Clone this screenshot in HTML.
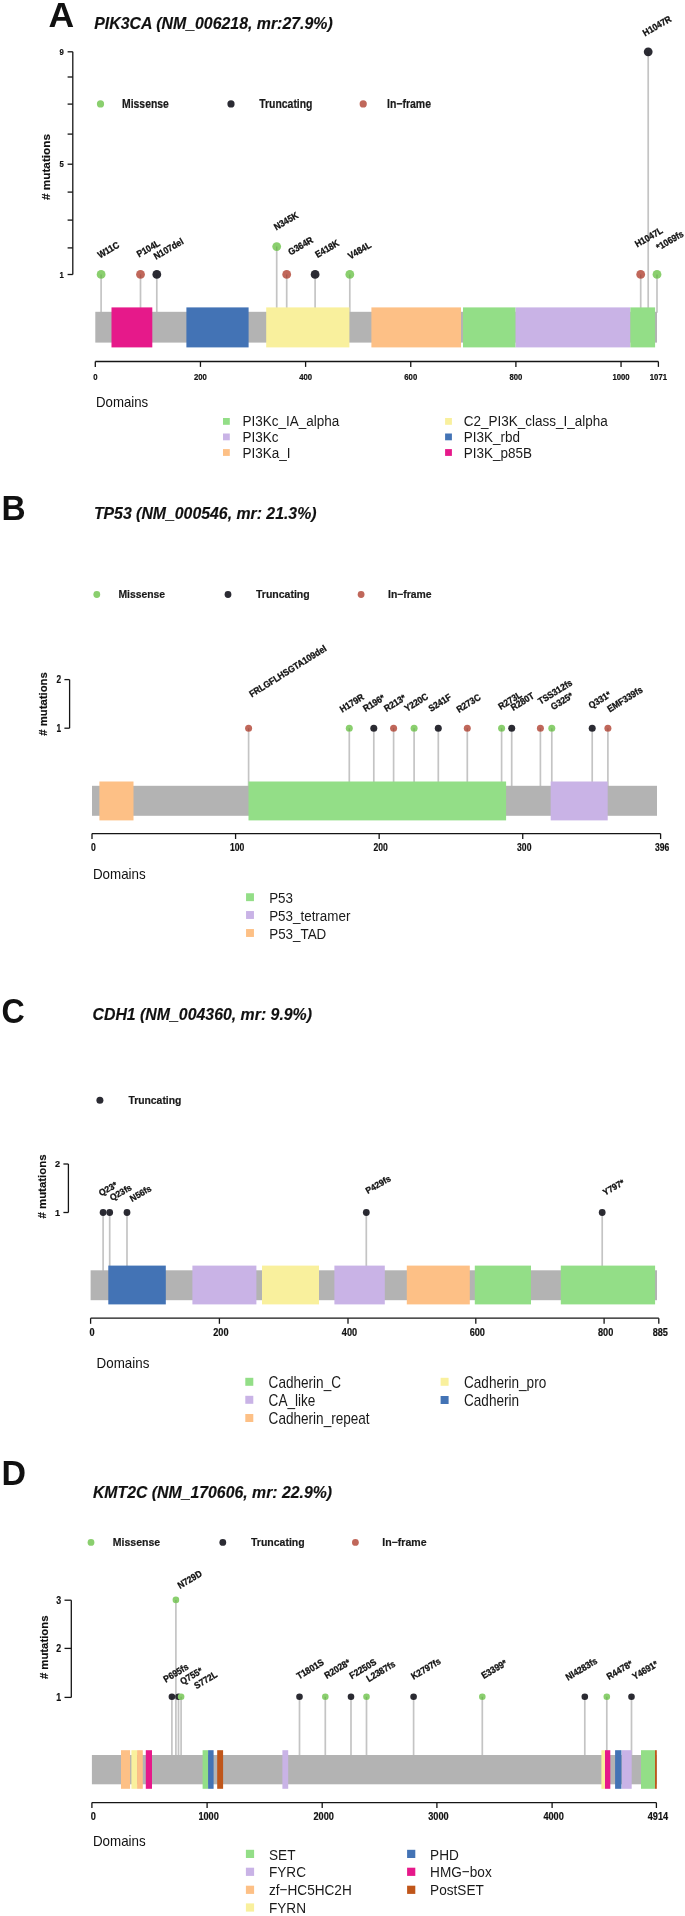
<!DOCTYPE html>
<html><head><meta charset="utf-8"><title>Lollipop plots</title>
<style>
html,body{margin:0;padding:0;background:#fff;}
svg{display:block;will-change:transform;}
text{font-family:"Liberation Sans",sans-serif;}
</style></head>
<body>
<svg width="685" height="1916" viewBox="0 0 685 1916">
<rect x="0" y="0" width="685" height="1916" fill="#ffffff"/>
<text x="0" y="0" font-size="35.2" font-weight="bold" fill="#111" transform="translate(48.45,26.6) scale(1.01,1)">A</text>
<text x="94.2" y="29.4" font-size="17.3" font-weight="bold" font-style="italic" text-anchor="start" fill="#111" textLength="238.5" lengthAdjust="spacingAndGlyphs" stroke="#111" stroke-width="0.15">PIK3CA (NM_006218, mr:27.9%)</text>
<circle cx="100.5" cy="103.9" r="3.6" fill="#8ACF6E"/>
<text x="122.0" y="107.7" font-size="12.3" font-weight="bold" text-anchor="start" fill="#1a1a1a" textLength="46.9" lengthAdjust="spacingAndGlyphs" stroke="#1a1a1a" stroke-width="0.2">Missense</text>
<circle cx="231.0" cy="103.9" r="3.6" fill="#2B2B33"/>
<text x="259.2" y="107.7" font-size="12.3" font-weight="bold" text-anchor="start" fill="#1a1a1a" textLength="53.3" lengthAdjust="spacingAndGlyphs" stroke="#1a1a1a" stroke-width="0.2">Truncating</text>
<circle cx="363.2" cy="103.9" r="3.6" fill="#C0675A"/>
<text x="387.0" y="107.7" font-size="12.3" font-weight="bold" text-anchor="start" fill="#1a1a1a" textLength="44.0" lengthAdjust="spacingAndGlyphs" stroke="#1a1a1a" stroke-width="0.2">In−frame</text>
<line x1="72.8" y1="51.8" x2="72.8" y2="274.5" stroke="#151515" stroke-width="1.3"/>
<line x1="67.6" y1="274.5" x2="72.8" y2="274.5" stroke="#151515" stroke-width="1.3"/>
<text x="0" y="0" font-size="9.0" font-weight="bold" text-anchor="middle" fill="#111" stroke="#111" stroke-width="0.2" transform="translate(61.6,277.6) scale(0.86,1)">1</text>
<line x1="67.6" y1="247.9" x2="72.8" y2="247.9" stroke="#151515" stroke-width="1.3"/>
<line x1="67.6" y1="220.1" x2="72.8" y2="220.1" stroke="#151515" stroke-width="1.3"/>
<line x1="67.6" y1="192.1" x2="72.8" y2="192.1" stroke="#151515" stroke-width="1.3"/>
<line x1="67.6" y1="164.2" x2="72.8" y2="164.2" stroke="#151515" stroke-width="1.3"/>
<text x="0" y="0" font-size="9.0" font-weight="bold" text-anchor="middle" fill="#111" stroke="#111" stroke-width="0.2" transform="translate(61.6,167.3) scale(0.86,1)">5</text>
<line x1="67.6" y1="134.1" x2="72.8" y2="134.1" stroke="#151515" stroke-width="1.3"/>
<line x1="67.6" y1="104.1" x2="72.8" y2="104.1" stroke="#151515" stroke-width="1.3"/>
<line x1="67.6" y1="77.0" x2="72.8" y2="77.0" stroke="#151515" stroke-width="1.3"/>
<line x1="67.6" y1="51.8" x2="72.8" y2="51.8" stroke="#151515" stroke-width="1.3"/>
<text x="0" y="0" font-size="9.0" font-weight="bold" text-anchor="middle" fill="#111" stroke="#111" stroke-width="0.2" transform="translate(61.6,54.9) scale(0.86,1)">9</text>
<text x="0" y="0" font-size="11.3" font-weight="bold" text-anchor="middle" fill="#111" stroke="#111" stroke-width="0.15" textLength="66" lengthAdjust="spacingAndGlyphs" transform="translate(50.4,167) rotate(-90)"># mutations</text>
<line x1="101.1" y1="274.4" x2="101.1" y2="312.8" stroke="#C4C4C4" stroke-width="1.7"/>
<line x1="140.5" y1="274.4" x2="140.5" y2="312.8" stroke="#C4C4C4" stroke-width="1.7"/>
<line x1="156.8" y1="274.4" x2="156.8" y2="312.8" stroke="#C4C4C4" stroke-width="1.7"/>
<line x1="276.7" y1="246.6" x2="276.7" y2="312.8" stroke="#C4C4C4" stroke-width="1.7"/>
<line x1="286.7" y1="274.4" x2="286.7" y2="312.8" stroke="#C4C4C4" stroke-width="1.7"/>
<line x1="315.1" y1="274.4" x2="315.1" y2="312.8" stroke="#C4C4C4" stroke-width="1.7"/>
<line x1="349.8" y1="274.4" x2="349.8" y2="312.8" stroke="#C4C4C4" stroke-width="1.7"/>
<line x1="640.7" y1="274.4" x2="640.7" y2="312.8" stroke="#C4C4C4" stroke-width="1.7"/>
<line x1="648.2" y1="51.8" x2="648.2" y2="312.8" stroke="#C4C4C4" stroke-width="1.7"/>
<line x1="657.0" y1="274.4" x2="657.0" y2="312.8" stroke="#C4C4C4" stroke-width="1.7"/>
<circle cx="101.1" cy="274.4" r="4.4" fill="#8ACF6E"/>
<line x1="101.1" y1="274.4" x2="101.1" y2="278.2" stroke="#000" stroke-opacity="0.12" stroke-width="1.4"/>
<circle cx="140.5" cy="274.4" r="4.4" fill="#C0675A"/>
<line x1="140.5" y1="274.4" x2="140.5" y2="278.2" stroke="#000" stroke-opacity="0.12" stroke-width="1.4"/>
<circle cx="156.8" cy="274.4" r="4.4" fill="#2B2B33"/>
<line x1="156.8" y1="274.4" x2="156.8" y2="278.2" stroke="#000" stroke-opacity="0.12" stroke-width="1.4"/>
<circle cx="276.7" cy="246.6" r="4.4" fill="#8ACF6E"/>
<line x1="276.7" y1="246.6" x2="276.7" y2="250.4" stroke="#000" stroke-opacity="0.12" stroke-width="1.4"/>
<circle cx="286.7" cy="274.4" r="4.4" fill="#C0675A"/>
<line x1="286.7" y1="274.4" x2="286.7" y2="278.2" stroke="#000" stroke-opacity="0.12" stroke-width="1.4"/>
<circle cx="315.1" cy="274.4" r="4.4" fill="#2B2B33"/>
<line x1="315.1" y1="274.4" x2="315.1" y2="278.2" stroke="#000" stroke-opacity="0.12" stroke-width="1.4"/>
<circle cx="349.8" cy="274.4" r="4.4" fill="#8ACF6E"/>
<line x1="349.8" y1="274.4" x2="349.8" y2="278.2" stroke="#000" stroke-opacity="0.12" stroke-width="1.4"/>
<circle cx="640.7" cy="274.4" r="4.4" fill="#C0675A"/>
<line x1="640.7" y1="274.4" x2="640.7" y2="278.2" stroke="#000" stroke-opacity="0.12" stroke-width="1.4"/>
<circle cx="648.2" cy="51.8" r="4.4" fill="#2B2B33"/>
<line x1="648.2" y1="51.8" x2="648.2" y2="55.6" stroke="#000" stroke-opacity="0.12" stroke-width="1.4"/>
<circle cx="657.0" cy="274.4" r="4.4" fill="#8ACF6E"/>
<line x1="657.0" y1="274.4" x2="657.0" y2="278.2" stroke="#000" stroke-opacity="0.12" stroke-width="1.4"/>
<text x="0" y="0" font-size="9.4" font-weight="bold" fill="#111" stroke="#111" stroke-width="0.3" textLength="23.15" lengthAdjust="spacingAndGlyphs" transform="translate(99.9,258.5) rotate(-30)">W11C</text>
<text x="0" y="0" font-size="9.4" font-weight="bold" fill="#111" stroke="#111" stroke-width="0.3" textLength="25.04" lengthAdjust="spacingAndGlyphs" transform="translate(139.1,257.6) rotate(-30)">P104L</text>
<text x="0" y="0" font-size="9.4" font-weight="bold" fill="#111" stroke="#111" stroke-width="0.3" textLength="32.6" lengthAdjust="spacingAndGlyphs" transform="translate(156.0,259.7) rotate(-30)">N107del</text>
<text x="0" y="0" font-size="9.4" font-weight="bold" fill="#111" stroke="#111" stroke-width="0.3" textLength="26.46" lengthAdjust="spacingAndGlyphs" transform="translate(276.2,230.4) rotate(-30)">N345K</text>
<text x="0" y="0" font-size="9.4" font-weight="bold" fill="#111" stroke="#111" stroke-width="0.3" textLength="26.93" lengthAdjust="spacingAndGlyphs" transform="translate(290.5,255.4) rotate(-30)">G364R</text>
<text x="0" y="0" font-size="9.4" font-weight="bold" fill="#111" stroke="#111" stroke-width="0.3" textLength="25.99" lengthAdjust="spacingAndGlyphs" transform="translate(317.4,258.0) rotate(-30)">E418K</text>
<text x="0" y="0" font-size="9.4" font-weight="bold" fill="#111" stroke="#111" stroke-width="0.3" textLength="25.04" lengthAdjust="spacingAndGlyphs" transform="translate(350.2,259.5) rotate(-30)">V484L</text>
<text x="0" y="0" font-size="9.4" font-weight="bold" fill="#111" stroke="#111" stroke-width="0.3" textLength="30.24" lengthAdjust="spacingAndGlyphs" transform="translate(637.3,247.6) rotate(-30)">H1047L</text>
<text x="0" y="0" font-size="9.4" font-weight="bold" fill="#111" stroke="#111" stroke-width="0.3" textLength="31.18" lengthAdjust="spacingAndGlyphs" transform="translate(645.1,36.4) rotate(-30)">H1047R</text>
<text x="0" y="0" font-size="9.4" font-weight="bold" fill="#111" stroke="#111" stroke-width="0.3" textLength="29.77" lengthAdjust="spacingAndGlyphs" transform="translate(658.6,250.7) rotate(-30)">*1069fs</text>
<rect x="95.3" y="311.8" width="561.7" height="30.80000000000001" fill="#B3B3B3"/>
<rect x="111.5" y="307.4" width="40.80000000000001" height="40.0" fill="#E6198A"/>
<rect x="186.4" y="307.4" width="62.19999999999999" height="40.0" fill="#4373B5"/>
<rect x="266.2" y="307.4" width="83.19999999999999" height="40.0" fill="#F9F09D"/>
<rect x="371.4" y="307.4" width="89.60000000000002" height="40.0" fill="#FDC086"/>
<rect x="463.0" y="307.4" width="52.60000000000002" height="40.0" fill="#93DE87"/>
<rect x="515.6" y="307.4" width="114.79999999999995" height="40.0" fill="#C9B3E6"/>
<rect x="630.4" y="307.4" width="24.700000000000045" height="40.0" fill="#93DE87"/>
<line x1="95.3" y1="361.5" x2="658.4" y2="361.5" stroke="#151515" stroke-width="1.3"/>
<line x1="95.3" y1="361.5" x2="95.3" y2="366.9" stroke="#151515" stroke-width="1.3"/>
<text x="0" y="0" font-size="8.6" font-weight="bold" text-anchor="middle" fill="#111" stroke="#111" stroke-width="0.2" transform="translate(95.3,379.8) scale(0.9,1)">0</text>
<line x1="200.45" y1="361.5" x2="200.45" y2="366.9" stroke="#151515" stroke-width="1.3"/>
<text x="0" y="0" font-size="8.6" font-weight="bold" text-anchor="middle" fill="#111" stroke="#111" stroke-width="0.2" transform="translate(200.45,379.8) scale(0.9,1)">200</text>
<line x1="305.6" y1="361.5" x2="305.6" y2="366.9" stroke="#151515" stroke-width="1.3"/>
<text x="0" y="0" font-size="8.6" font-weight="bold" text-anchor="middle" fill="#111" stroke="#111" stroke-width="0.2" transform="translate(305.6,379.8) scale(0.9,1)">400</text>
<line x1="410.75" y1="361.5" x2="410.75" y2="366.9" stroke="#151515" stroke-width="1.3"/>
<text x="0" y="0" font-size="8.6" font-weight="bold" text-anchor="middle" fill="#111" stroke="#111" stroke-width="0.2" transform="translate(410.75,379.8) scale(0.9,1)">600</text>
<line x1="515.9" y1="361.5" x2="515.9" y2="366.9" stroke="#151515" stroke-width="1.3"/>
<text x="0" y="0" font-size="8.6" font-weight="bold" text-anchor="middle" fill="#111" stroke="#111" stroke-width="0.2" transform="translate(515.9,379.8) scale(0.9,1)">800</text>
<line x1="621.05" y1="361.5" x2="621.05" y2="366.9" stroke="#151515" stroke-width="1.3"/>
<text x="0" y="0" font-size="8.6" font-weight="bold" text-anchor="middle" fill="#111" stroke="#111" stroke-width="0.2" transform="translate(621.05,379.8) scale(0.9,1)">1000</text>
<line x1="658.4" y1="361.5" x2="658.4" y2="366.9" stroke="#151515" stroke-width="1.3"/>
<text x="0" y="0" font-size="8.6" font-weight="bold" text-anchor="middle" fill="#111" stroke="#111" stroke-width="0.2" transform="translate(658.4,379.8) scale(0.9,1)">1071</text>
<text x="96.0" y="407.2" font-size="14.3" text-anchor="start" fill="#111" textLength="52.2" lengthAdjust="spacingAndGlyphs">Domains</text>
<rect x="223.0" y="418.0" width="6.8" height="6.8" fill="#93DE87"/>
<text x="242.5" y="426.45" font-size="15.43" text-anchor="start" fill="#1a1a1a" textLength="96.81" lengthAdjust="spacingAndGlyphs">PI3Kc_IA_alpha</text>
<rect x="223.0" y="433.5" width="6.8" height="6.8" fill="#C9B3E6"/>
<text x="242.5" y="441.95" font-size="15.43" text-anchor="start" fill="#1a1a1a" textLength="36.02" lengthAdjust="spacingAndGlyphs">PI3Kc</text>
<rect x="223.0" y="449.1" width="6.8" height="6.8" fill="#FDC086"/>
<text x="242.5" y="457.55" font-size="15.43" text-anchor="start" fill="#1a1a1a" textLength="48.03" lengthAdjust="spacingAndGlyphs">PI3Ka_I</text>
<rect x="445.1" y="418.0" width="6.8" height="6.8" fill="#F9F09D"/>
<text x="463.8" y="426.45" font-size="15.43" text-anchor="start" fill="#1a1a1a" textLength="144.08" lengthAdjust="spacingAndGlyphs">C2_PI3K_class_I_alpha</text>
<rect x="445.1" y="433.5" width="6.8" height="6.8" fill="#4373B5"/>
<text x="463.8" y="441.95" font-size="15.43" text-anchor="start" fill="#1a1a1a" textLength="56.28" lengthAdjust="spacingAndGlyphs">PI3K_rbd</text>
<rect x="445.1" y="449.1" width="6.8" height="6.8" fill="#E6198A"/>
<text x="463.8" y="457.55" font-size="15.43" text-anchor="start" fill="#1a1a1a" textLength="68.3" lengthAdjust="spacingAndGlyphs">PI3K_p85B</text>
<text x="0" y="0" font-size="35.2" font-weight="bold" fill="#111" transform="translate(1.59,520.4) scale(0.95,1)">B</text>
<text x="93.9" y="518.6" font-size="16.9" font-weight="bold" font-style="italic" text-anchor="start" fill="#111" textLength="222.6" lengthAdjust="spacingAndGlyphs" stroke="#111" stroke-width="0.15">TP53 (NM_000546, mr: 21.3%)</text>
<circle cx="96.8" cy="594.5" r="3.4" fill="#8ACF6E"/>
<text x="118.4" y="597.85" font-size="11.2" font-weight="bold" text-anchor="start" fill="#1a1a1a" textLength="46.7" lengthAdjust="spacingAndGlyphs" stroke="#1a1a1a" stroke-width="0.2">Missense</text>
<circle cx="228.0" cy="594.5" r="3.4" fill="#2B2B33"/>
<text x="256.0" y="597.85" font-size="11.2" font-weight="bold" text-anchor="start" fill="#1a1a1a" textLength="53.7" lengthAdjust="spacingAndGlyphs" stroke="#1a1a1a" stroke-width="0.2">Truncating</text>
<circle cx="361.1" cy="594.5" r="3.4" fill="#C0675A"/>
<text x="388.0" y="597.85" font-size="11.2" font-weight="bold" text-anchor="start" fill="#1a1a1a" textLength="43.6" lengthAdjust="spacingAndGlyphs" stroke="#1a1a1a" stroke-width="0.2">In−frame</text>
<line x1="69.6" y1="679.6" x2="69.6" y2="728.2" stroke="#151515" stroke-width="1.3"/>
<line x1="64.4" y1="679.6" x2="69.6" y2="679.6" stroke="#151515" stroke-width="1.3"/>
<text x="0" y="0" font-size="10.4" font-weight="bold" text-anchor="middle" fill="#111" stroke="#111" stroke-width="0.2" transform="translate(58.7,683.18) scale(0.8,1)">2</text>
<line x1="64.4" y1="728.2" x2="69.6" y2="728.2" stroke="#151515" stroke-width="1.3"/>
<text x="0" y="0" font-size="10.4" font-weight="bold" text-anchor="middle" fill="#111" stroke="#111" stroke-width="0.2" transform="translate(58.7,731.78) scale(0.8,1)">1</text>
<text x="0" y="0" font-size="11.3" font-weight="bold" text-anchor="middle" fill="#111" stroke="#111" stroke-width="0.15" textLength="63.5" lengthAdjust="spacingAndGlyphs" transform="translate(47.2,704) rotate(-90)"># mutations</text>
<line x1="248.6" y1="728.2" x2="248.6" y2="786.8" stroke="#C4C4C4" stroke-width="1.7"/>
<line x1="349.3" y1="728.2" x2="349.3" y2="786.8" stroke="#C4C4C4" stroke-width="1.7"/>
<line x1="373.8" y1="728.2" x2="373.8" y2="786.8" stroke="#C4C4C4" stroke-width="1.7"/>
<line x1="393.6" y1="728.2" x2="393.6" y2="786.8" stroke="#C4C4C4" stroke-width="1.7"/>
<line x1="414.1" y1="728.2" x2="414.1" y2="786.8" stroke="#C4C4C4" stroke-width="1.7"/>
<line x1="438.3" y1="728.2" x2="438.3" y2="786.8" stroke="#C4C4C4" stroke-width="1.7"/>
<line x1="467.3" y1="728.2" x2="467.3" y2="786.8" stroke="#C4C4C4" stroke-width="1.7"/>
<line x1="501.6" y1="728.2" x2="501.6" y2="786.8" stroke="#C4C4C4" stroke-width="1.7"/>
<line x1="511.7" y1="728.2" x2="511.7" y2="786.8" stroke="#C4C4C4" stroke-width="1.7"/>
<line x1="540.4" y1="728.2" x2="540.4" y2="786.8" stroke="#C4C4C4" stroke-width="1.7"/>
<line x1="551.8" y1="728.2" x2="551.8" y2="786.8" stroke="#C4C4C4" stroke-width="1.7"/>
<line x1="592.2" y1="728.2" x2="592.2" y2="786.8" stroke="#C4C4C4" stroke-width="1.7"/>
<line x1="607.9" y1="728.2" x2="607.9" y2="786.8" stroke="#C4C4C4" stroke-width="1.7"/>
<circle cx="248.6" cy="728.2" r="3.5" fill="#C0675A"/>
<line x1="248.6" y1="728.2" x2="248.6" y2="731.1" stroke="#000" stroke-opacity="0.12" stroke-width="1.4"/>
<circle cx="349.3" cy="728.2" r="3.5" fill="#8ACF6E"/>
<line x1="349.3" y1="728.2" x2="349.3" y2="731.1" stroke="#000" stroke-opacity="0.12" stroke-width="1.4"/>
<circle cx="373.8" cy="728.2" r="3.5" fill="#2B2B33"/>
<line x1="373.8" y1="728.2" x2="373.8" y2="731.1" stroke="#000" stroke-opacity="0.12" stroke-width="1.4"/>
<circle cx="393.6" cy="728.2" r="3.5" fill="#C0675A"/>
<line x1="393.6" y1="728.2" x2="393.6" y2="731.1" stroke="#000" stroke-opacity="0.12" stroke-width="1.4"/>
<circle cx="414.1" cy="728.2" r="3.5" fill="#8ACF6E"/>
<line x1="414.1" y1="728.2" x2="414.1" y2="731.1" stroke="#000" stroke-opacity="0.12" stroke-width="1.4"/>
<circle cx="438.3" cy="728.2" r="3.5" fill="#2B2B33"/>
<line x1="438.3" y1="728.2" x2="438.3" y2="731.1" stroke="#000" stroke-opacity="0.12" stroke-width="1.4"/>
<circle cx="467.3" cy="728.2" r="3.5" fill="#C0675A"/>
<line x1="467.3" y1="728.2" x2="467.3" y2="731.1" stroke="#000" stroke-opacity="0.12" stroke-width="1.4"/>
<circle cx="501.6" cy="728.2" r="3.5" fill="#8ACF6E"/>
<line x1="501.6" y1="728.2" x2="501.6" y2="731.1" stroke="#000" stroke-opacity="0.12" stroke-width="1.4"/>
<circle cx="511.7" cy="728.2" r="3.5" fill="#2B2B33"/>
<line x1="511.7" y1="728.2" x2="511.7" y2="731.1" stroke="#000" stroke-opacity="0.12" stroke-width="1.4"/>
<circle cx="540.4" cy="728.2" r="3.5" fill="#C0675A"/>
<line x1="540.4" y1="728.2" x2="540.4" y2="731.1" stroke="#000" stroke-opacity="0.12" stroke-width="1.4"/>
<circle cx="551.8" cy="728.2" r="3.5" fill="#8ACF6E"/>
<line x1="551.8" y1="728.2" x2="551.8" y2="731.1" stroke="#000" stroke-opacity="0.12" stroke-width="1.4"/>
<circle cx="592.2" cy="728.2" r="3.5" fill="#2B2B33"/>
<line x1="592.2" y1="728.2" x2="592.2" y2="731.1" stroke="#000" stroke-opacity="0.12" stroke-width="1.4"/>
<circle cx="607.9" cy="728.2" r="3.5" fill="#C0675A"/>
<line x1="607.9" y1="728.2" x2="607.9" y2="731.1" stroke="#000" stroke-opacity="0.12" stroke-width="1.4"/>
<text x="0" y="0" font-size="9.4" font-weight="bold" fill="#111" stroke="#111" stroke-width="0.3" textLength="89.1" lengthAdjust="spacingAndGlyphs" transform="translate(251.7,697.5) rotate(-32)">FRLGFLHSGTA109del</text>
<text x="0" y="0" font-size="9.4" font-weight="bold" fill="#111" stroke="#111" stroke-width="0.3" textLength="26.46" lengthAdjust="spacingAndGlyphs" transform="translate(342.2,712.8) rotate(-32)">H179R</text>
<text x="0" y="0" font-size="9.4" font-weight="bold" fill="#111" stroke="#111" stroke-width="0.3" textLength="23.63" lengthAdjust="spacingAndGlyphs" transform="translate(365.6,711.9) rotate(-32)">R196*</text>
<text x="0" y="0" font-size="9.4" font-weight="bold" fill="#111" stroke="#111" stroke-width="0.3" textLength="23.63" lengthAdjust="spacingAndGlyphs" transform="translate(386.6,711.9) rotate(-32)">R213*</text>
<text x="0" y="0" font-size="9.4" font-weight="bold" fill="#111" stroke="#111" stroke-width="0.3" textLength="25.99" lengthAdjust="spacingAndGlyphs" transform="translate(407.0,712.1) rotate(-32)">Y220C</text>
<text x="0" y="0" font-size="9.4" font-weight="bold" fill="#111" stroke="#111" stroke-width="0.3" textLength="25.04" lengthAdjust="spacingAndGlyphs" transform="translate(430.9,712.1) rotate(-32)">S241F</text>
<text x="0" y="0" font-size="9.4" font-weight="bold" fill="#111" stroke="#111" stroke-width="0.3" textLength="26.46" lengthAdjust="spacingAndGlyphs" transform="translate(458.9,713.1) rotate(-32)">R273C</text>
<text x="0" y="0" font-size="9.4" font-weight="bold" fill="#111" stroke="#111" stroke-width="0.3" textLength="25.51" lengthAdjust="spacingAndGlyphs" transform="translate(500.7,710.0) rotate(-32)">R273L</text>
<text x="0" y="0" font-size="9.4" font-weight="bold" fill="#111" stroke="#111" stroke-width="0.3" textLength="25.51" lengthAdjust="spacingAndGlyphs" transform="translate(513.3,711.1) rotate(-32)">R280T</text>
<text x="0" y="0" font-size="9.4" font-weight="bold" fill="#111" stroke="#111" stroke-width="0.3" textLength="38.27" lengthAdjust="spacingAndGlyphs" transform="translate(540.6,704.7) rotate(-32)">TSS312fs</text>
<text x="0" y="0" font-size="9.4" font-weight="bold" fill="#111" stroke="#111" stroke-width="0.3" textLength="24.1" lengthAdjust="spacingAndGlyphs" transform="translate(553.3,710.3) rotate(-32)">G325*</text>
<text x="0" y="0" font-size="9.4" font-weight="bold" fill="#111" stroke="#111" stroke-width="0.3" textLength="24.1" lengthAdjust="spacingAndGlyphs" transform="translate(591.1,709.1) rotate(-32)">Q331*</text>
<text x="0" y="0" font-size="9.4" font-weight="bold" fill="#111" stroke="#111" stroke-width="0.3" textLength="39.68" lengthAdjust="spacingAndGlyphs" transform="translate(609.8,712.6) rotate(-32)">EMF339fs</text>
<rect x="92.0" y="785.8" width="565.0" height="30.0" fill="#B3B3B3"/>
<rect x="99.4" y="781.5" width="34.099999999999994" height="38.89999999999998" fill="#FDC086"/>
<rect x="248.5" y="781.5" width="257.6" height="38.89999999999998" fill="#93DE87"/>
<rect x="550.7" y="781.5" width="57.0" height="38.89999999999998" fill="#C9B3E6"/>
<line x1="92.0" y1="833.6" x2="660.6" y2="833.6" stroke="#151515" stroke-width="1.3"/>
<line x1="92.0" y1="833.6" x2="92.0" y2="839.0" stroke="#151515" stroke-width="1.3"/>
<text x="0" y="0" font-size="10.9" font-weight="bold" text-anchor="middle" fill="#111" stroke="#111" stroke-width="0.2" transform="translate(93.5,851.0) scale(0.79,1)">0</text>
<line x1="235.58" y1="833.6" x2="235.58" y2="839.0" stroke="#151515" stroke-width="1.3"/>
<text x="0" y="0" font-size="10.9" font-weight="bold" text-anchor="middle" fill="#111" stroke="#111" stroke-width="0.2" transform="translate(237.08,851.0) scale(0.79,1)">100</text>
<line x1="379.16" y1="833.6" x2="379.16" y2="839.0" stroke="#151515" stroke-width="1.3"/>
<text x="0" y="0" font-size="10.9" font-weight="bold" text-anchor="middle" fill="#111" stroke="#111" stroke-width="0.2" transform="translate(380.66,851.0) scale(0.79,1)">200</text>
<line x1="522.74" y1="833.6" x2="522.74" y2="839.0" stroke="#151515" stroke-width="1.3"/>
<text x="0" y="0" font-size="10.9" font-weight="bold" text-anchor="middle" fill="#111" stroke="#111" stroke-width="0.2" transform="translate(524.24,851.0) scale(0.79,1)">300</text>
<line x1="660.6" y1="833.6" x2="660.6" y2="839.0" stroke="#151515" stroke-width="1.3"/>
<text x="0" y="0" font-size="10.9" font-weight="bold" text-anchor="middle" fill="#111" stroke="#111" stroke-width="0.2" transform="translate(662.1,851.0) scale(0.79,1)">396</text>
<text x="92.9" y="879.3" font-size="14.5" text-anchor="start" fill="#111" textLength="52.8" lengthAdjust="spacingAndGlyphs">Domains</text>
<rect x="246.05" y="893.25" width="7.9" height="7.9" fill="#93DE87"/>
<text x="269.2" y="902.89" font-size="14.47" text-anchor="start" fill="#1a1a1a" textLength="23.84" lengthAdjust="spacingAndGlyphs">P53</text>
<rect x="246.05" y="911.05" width="7.9" height="7.9" fill="#C9B3E6"/>
<text x="269.2" y="920.69" font-size="14.47" text-anchor="start" fill="#1a1a1a" textLength="81.18" lengthAdjust="spacingAndGlyphs">P53_tetramer</text>
<rect x="246.05" y="929.05" width="7.9" height="7.9" fill="#FDC086"/>
<text x="269.2" y="938.69" font-size="14.47" text-anchor="start" fill="#1a1a1a" textLength="57.1" lengthAdjust="spacingAndGlyphs">P53_TAD</text>
<text x="0" y="0" font-size="35.0" font-weight="bold" fill="#111" transform="translate(1.58,1022.85) scale(0.92,1)">C</text>
<text x="92.5" y="1020.3" font-size="16.5" font-weight="bold" font-style="italic" text-anchor="start" fill="#111" textLength="219.5" lengthAdjust="spacingAndGlyphs" stroke="#111" stroke-width="0.15">CDH1 (NM_004360, mr: 9.9%)</text>
<circle cx="99.9" cy="1100.3" r="3.5" fill="#2B2B33"/>
<text x="128.4" y="1103.8" font-size="11.2" font-weight="bold" text-anchor="start" fill="#1a1a1a" textLength="53.0" lengthAdjust="spacingAndGlyphs" stroke="#1a1a1a" stroke-width="0.2">Truncating</text>
<line x1="68.4" y1="1164.0" x2="68.4" y2="1212.5" stroke="#151515" stroke-width="1.3"/>
<line x1="63.4" y1="1164.0" x2="68.4" y2="1164.0" stroke="#151515" stroke-width="1.3"/>
<text x="0" y="0" font-size="9.8" font-weight="bold" text-anchor="middle" fill="#111" stroke="#111" stroke-width="0.2" transform="translate(57.6,1167.37) scale(0.93,1)">2</text>
<line x1="63.4" y1="1212.5" x2="68.4" y2="1212.5" stroke="#151515" stroke-width="1.3"/>
<text x="0" y="0" font-size="9.8" font-weight="bold" text-anchor="middle" fill="#111" stroke="#111" stroke-width="0.2" transform="translate(57.6,1215.87) scale(0.93,1)">1</text>
<text x="0" y="0" font-size="11.3" font-weight="bold" text-anchor="middle" fill="#111" stroke="#111" stroke-width="0.15" textLength="64" lengthAdjust="spacingAndGlyphs" transform="translate(45.7,1186.5) rotate(-90)"># mutations</text>
<line x1="103.1" y1="1212.5" x2="103.1" y2="1271.3" stroke="#C4C4C4" stroke-width="1.7"/>
<line x1="109.7" y1="1212.5" x2="109.7" y2="1271.3" stroke="#C4C4C4" stroke-width="1.7"/>
<line x1="127.0" y1="1212.5" x2="127.0" y2="1271.3" stroke="#C4C4C4" stroke-width="1.7"/>
<line x1="366.3" y1="1212.5" x2="366.3" y2="1271.3" stroke="#C4C4C4" stroke-width="1.7"/>
<line x1="602.2" y1="1212.5" x2="602.2" y2="1271.3" stroke="#C4C4C4" stroke-width="1.7"/>
<circle cx="103.1" cy="1212.5" r="3.4" fill="#2B2B33"/>
<line x1="103.1" y1="1212.5" x2="103.1" y2="1215.3" stroke="#000" stroke-opacity="0.12" stroke-width="1.4"/>
<circle cx="109.7" cy="1212.5" r="3.4" fill="#2B2B33"/>
<line x1="109.7" y1="1212.5" x2="109.7" y2="1215.3" stroke="#000" stroke-opacity="0.12" stroke-width="1.4"/>
<circle cx="127.0" cy="1212.5" r="3.4" fill="#2B2B33"/>
<line x1="127.0" y1="1212.5" x2="127.0" y2="1215.3" stroke="#000" stroke-opacity="0.12" stroke-width="1.4"/>
<circle cx="366.3" cy="1212.5" r="3.4" fill="#2B2B33"/>
<line x1="366.3" y1="1212.5" x2="366.3" y2="1215.3" stroke="#000" stroke-opacity="0.12" stroke-width="1.4"/>
<circle cx="602.2" cy="1212.5" r="3.4" fill="#2B2B33"/>
<line x1="602.2" y1="1212.5" x2="602.2" y2="1215.3" stroke="#000" stroke-opacity="0.12" stroke-width="1.4"/>
<text x="0" y="0" font-size="8.9" font-weight="bold" fill="#111" stroke="#111" stroke-width="0.3" textLength="19.37" lengthAdjust="spacingAndGlyphs" transform="translate(101.1,1196.3) rotate(-30)">Q23*</text>
<text x="0" y="0" font-size="8.9" font-weight="bold" fill="#111" stroke="#111" stroke-width="0.3" textLength="23.62" lengthAdjust="spacingAndGlyphs" transform="translate(112.0,1201.1) rotate(-30)">Q23fs</text>
<text x="0" y="0" font-size="8.9" font-weight="bold" fill="#111" stroke="#111" stroke-width="0.3" textLength="23.15" lengthAdjust="spacingAndGlyphs" transform="translate(132.1,1201.9) rotate(-30)">N56fs</text>
<text x="0" y="0" font-size="8.9" font-weight="bold" fill="#111" stroke="#111" stroke-width="0.3" textLength="27.41" lengthAdjust="spacingAndGlyphs" transform="translate(367.8,1194.0) rotate(-30)">P429fs</text>
<text x="0" y="0" font-size="8.9" font-weight="bold" fill="#111" stroke="#111" stroke-width="0.3" textLength="23.16" lengthAdjust="spacingAndGlyphs" transform="translate(605.1,1195.8) rotate(-30)">Y797*</text>
<rect x="90.6" y="1270.3" width="566.4" height="29.90000000000009" fill="#B3B3B3"/>
<rect x="108.3" y="1265.6" width="57.500000000000014" height="38.80000000000018" fill="#4373B5"/>
<rect x="192.4" y="1265.6" width="63.99999999999997" height="38.80000000000018" fill="#C9B3E6"/>
<rect x="262.0" y="1265.6" width="57.0" height="38.80000000000018" fill="#F9F09D"/>
<rect x="334.4" y="1265.6" width="50.400000000000034" height="38.80000000000018" fill="#C9B3E6"/>
<rect x="406.8" y="1265.6" width="63.0" height="38.80000000000018" fill="#FDC086"/>
<rect x="474.8" y="1265.6" width="56.19999999999999" height="38.80000000000018" fill="#93DE87"/>
<rect x="560.8" y="1265.6" width="94.30000000000007" height="38.80000000000018" fill="#93DE87"/>
<line x1="90.6" y1="1318.2" x2="658.8" y2="1318.2" stroke="#151515" stroke-width="1.3"/>
<line x1="90.6" y1="1318.2" x2="90.6" y2="1323.8" stroke="#151515" stroke-width="1.3"/>
<text x="0" y="0" font-size="11.2" font-weight="bold" text-anchor="middle" fill="#111" stroke="#111" stroke-width="0.2" transform="translate(92.1,1336.0) scale(0.82,1)">0</text>
<line x1="219.4" y1="1318.2" x2="219.4" y2="1323.8" stroke="#151515" stroke-width="1.3"/>
<text x="0" y="0" font-size="11.2" font-weight="bold" text-anchor="middle" fill="#111" stroke="#111" stroke-width="0.2" transform="translate(220.9,1336.0) scale(0.82,1)">200</text>
<line x1="348.0" y1="1318.2" x2="348.0" y2="1323.8" stroke="#151515" stroke-width="1.3"/>
<text x="0" y="0" font-size="11.2" font-weight="bold" text-anchor="middle" fill="#111" stroke="#111" stroke-width="0.2" transform="translate(349.5,1336.0) scale(0.82,1)">400</text>
<line x1="475.8" y1="1318.2" x2="475.8" y2="1323.8" stroke="#151515" stroke-width="1.3"/>
<text x="0" y="0" font-size="11.2" font-weight="bold" text-anchor="middle" fill="#111" stroke="#111" stroke-width="0.2" transform="translate(477.3,1336.0) scale(0.82,1)">600</text>
<line x1="604.1" y1="1318.2" x2="604.1" y2="1323.8" stroke="#151515" stroke-width="1.3"/>
<text x="0" y="0" font-size="11.2" font-weight="bold" text-anchor="middle" fill="#111" stroke="#111" stroke-width="0.2" transform="translate(605.6,1336.0) scale(0.82,1)">800</text>
<line x1="658.8" y1="1318.2" x2="658.8" y2="1323.8" stroke="#151515" stroke-width="1.3"/>
<text x="0" y="0" font-size="11.2" font-weight="bold" text-anchor="middle" fill="#111" stroke="#111" stroke-width="0.2" transform="translate(660.3,1336.0) scale(0.82,1)">885</text>
<text x="96.6" y="1367.5" font-size="14.3" text-anchor="start" fill="#111" textLength="52.8" lengthAdjust="spacingAndGlyphs">Domains</text>
<rect x="245.3" y="1377.8" width="8.0" height="8.0" fill="#93DE87"/>
<text x="268.6" y="1388.05" font-size="15.96" text-anchor="start" fill="#1a1a1a" textLength="72.39" lengthAdjust="spacingAndGlyphs">Cadherin_C</text>
<rect x="245.3" y="1395.8" width="8.0" height="8.0" fill="#C9B3E6"/>
<text x="268.6" y="1406.05" font-size="15.96" text-anchor="start" fill="#1a1a1a" textLength="46.75" lengthAdjust="spacingAndGlyphs">CA_like</text>
<rect x="245.3" y="1414.0" width="8.0" height="8.0" fill="#FDC086"/>
<text x="268.6" y="1424.25" font-size="15.96" text-anchor="start" fill="#1a1a1a" textLength="101.05" lengthAdjust="spacingAndGlyphs">Cadherin_repeat</text>
<rect x="440.6" y="1377.8" width="8.0" height="8.0" fill="#F9F09D"/>
<text x="464.0" y="1388.05" font-size="15.96" text-anchor="start" fill="#1a1a1a" textLength="82.2" lengthAdjust="spacingAndGlyphs">Cadherin_pro</text>
<rect x="440.6" y="1396.0" width="8.0" height="8.0" fill="#4373B5"/>
<text x="464.0" y="1406.25" font-size="15.96" text-anchor="start" fill="#1a1a1a" textLength="55.05" lengthAdjust="spacingAndGlyphs">Cadherin</text>
<text x="0" y="0" font-size="35.2" font-weight="bold" fill="#111" transform="translate(1.56,1484.5) scale(0.966,1)">D</text>
<text x="92.9" y="1498.0" font-size="16.3" font-weight="bold" font-style="italic" text-anchor="start" fill="#111" textLength="239.2" lengthAdjust="spacingAndGlyphs" stroke="#111" stroke-width="0.15">KMT2C (NM_170606, mr: 22.9%)</text>
<circle cx="91.0" cy="1542.4" r="3.4" fill="#8ACF6E"/>
<text x="112.8" y="1545.85" font-size="11.2" font-weight="bold" text-anchor="start" fill="#1a1a1a" textLength="47.3" lengthAdjust="spacingAndGlyphs" stroke="#1a1a1a" stroke-width="0.2">Missense</text>
<circle cx="222.8" cy="1542.4" r="3.4" fill="#2B2B33"/>
<text x="251.0" y="1545.85" font-size="11.2" font-weight="bold" text-anchor="start" fill="#1a1a1a" textLength="53.7" lengthAdjust="spacingAndGlyphs" stroke="#1a1a1a" stroke-width="0.2">Truncating</text>
<circle cx="355.4" cy="1542.4" r="3.4" fill="#C0675A"/>
<text x="382.3" y="1545.85" font-size="11.2" font-weight="bold" text-anchor="start" fill="#1a1a1a" textLength="44.3" lengthAdjust="spacingAndGlyphs" stroke="#1a1a1a" stroke-width="0.2">In−frame</text>
<line x1="71.3" y1="1600.2" x2="71.3" y2="1697.4" stroke="#151515" stroke-width="1.3"/>
<line x1="64.5" y1="1600.2" x2="71.3" y2="1600.2" stroke="#151515" stroke-width="1.3"/>
<text x="0" y="0" font-size="10.4" font-weight="bold" text-anchor="middle" fill="#111" stroke="#111" stroke-width="0.2" transform="translate(58.7,1603.78) scale(0.85,1)">3</text>
<line x1="64.5" y1="1648.4" x2="71.3" y2="1648.4" stroke="#151515" stroke-width="1.3"/>
<text x="0" y="0" font-size="10.4" font-weight="bold" text-anchor="middle" fill="#111" stroke="#111" stroke-width="0.2" transform="translate(58.7,1651.98) scale(0.85,1)">2</text>
<line x1="64.5" y1="1697.4" x2="71.3" y2="1697.4" stroke="#151515" stroke-width="1.3"/>
<text x="0" y="0" font-size="10.4" font-weight="bold" text-anchor="middle" fill="#111" stroke="#111" stroke-width="0.2" transform="translate(58.7,1700.98) scale(0.85,1)">1</text>
<text x="0" y="0" font-size="11.3" font-weight="bold" text-anchor="middle" fill="#111" stroke="#111" stroke-width="0.15" textLength="63.6" lengthAdjust="spacingAndGlyphs" transform="translate(47.5,1647.3) rotate(-90)"># mutations</text>
<line x1="171.9" y1="1696.8" x2="171.9" y2="1756.0" stroke="#C4C4C4" stroke-width="1.7"/>
<line x1="175.9" y1="1599.9" x2="175.9" y2="1756.0" stroke="#C4C4C4" stroke-width="1.7"/>
<line x1="178.5" y1="1696.8" x2="178.5" y2="1756.0" stroke="#C4C4C4" stroke-width="1.7"/>
<line x1="181.1" y1="1696.8" x2="181.1" y2="1756.0" stroke="#C4C4C4" stroke-width="1.7"/>
<line x1="299.5" y1="1696.8" x2="299.5" y2="1756.0" stroke="#C4C4C4" stroke-width="1.7"/>
<line x1="325.3" y1="1696.8" x2="325.3" y2="1756.0" stroke="#C4C4C4" stroke-width="1.7"/>
<line x1="351.0" y1="1696.8" x2="351.0" y2="1756.0" stroke="#C4C4C4" stroke-width="1.7"/>
<line x1="366.5" y1="1696.8" x2="366.5" y2="1756.0" stroke="#C4C4C4" stroke-width="1.7"/>
<line x1="413.6" y1="1696.8" x2="413.6" y2="1756.0" stroke="#C4C4C4" stroke-width="1.7"/>
<line x1="482.3" y1="1696.8" x2="482.3" y2="1756.0" stroke="#C4C4C4" stroke-width="1.7"/>
<line x1="584.8" y1="1696.8" x2="584.8" y2="1756.0" stroke="#C4C4C4" stroke-width="1.7"/>
<line x1="606.8" y1="1696.8" x2="606.8" y2="1756.0" stroke="#C4C4C4" stroke-width="1.7"/>
<line x1="631.5" y1="1696.8" x2="631.5" y2="1756.0" stroke="#C4C4C4" stroke-width="1.7"/>
<circle cx="171.9" cy="1696.8" r="3.3" fill="#2B2B33"/>
<line x1="171.9" y1="1696.8" x2="171.9" y2="1699.5" stroke="#000" stroke-opacity="0.12" stroke-width="1.4"/>
<circle cx="175.9" cy="1599.9" r="3.3" fill="#8ACF6E"/>
<line x1="175.9" y1="1599.9" x2="175.9" y2="1602.6" stroke="#000" stroke-opacity="0.12" stroke-width="1.4"/>
<circle cx="178.5" cy="1696.8" r="3.3" fill="#2B2B33"/>
<line x1="178.5" y1="1696.8" x2="178.5" y2="1699.5" stroke="#000" stroke-opacity="0.12" stroke-width="1.4"/>
<circle cx="181.1" cy="1696.8" r="3.3" fill="#8ACF6E"/>
<line x1="181.1" y1="1696.8" x2="181.1" y2="1699.5" stroke="#000" stroke-opacity="0.12" stroke-width="1.4"/>
<circle cx="299.5" cy="1696.8" r="3.3" fill="#2B2B33"/>
<line x1="299.5" y1="1696.8" x2="299.5" y2="1699.5" stroke="#000" stroke-opacity="0.12" stroke-width="1.4"/>
<circle cx="325.3" cy="1696.8" r="3.3" fill="#8ACF6E"/>
<line x1="325.3" y1="1696.8" x2="325.3" y2="1699.5" stroke="#000" stroke-opacity="0.12" stroke-width="1.4"/>
<circle cx="351.0" cy="1696.8" r="3.3" fill="#2B2B33"/>
<line x1="351.0" y1="1696.8" x2="351.0" y2="1699.5" stroke="#000" stroke-opacity="0.12" stroke-width="1.4"/>
<circle cx="366.5" cy="1696.8" r="3.3" fill="#8ACF6E"/>
<line x1="366.5" y1="1696.8" x2="366.5" y2="1699.5" stroke="#000" stroke-opacity="0.12" stroke-width="1.4"/>
<circle cx="413.6" cy="1696.8" r="3.3" fill="#2B2B33"/>
<line x1="413.6" y1="1696.8" x2="413.6" y2="1699.5" stroke="#000" stroke-opacity="0.12" stroke-width="1.4"/>
<circle cx="482.3" cy="1696.8" r="3.3" fill="#8ACF6E"/>
<line x1="482.3" y1="1696.8" x2="482.3" y2="1699.5" stroke="#000" stroke-opacity="0.12" stroke-width="1.4"/>
<circle cx="584.8" cy="1696.8" r="3.3" fill="#2B2B33"/>
<line x1="584.8" y1="1696.8" x2="584.8" y2="1699.5" stroke="#000" stroke-opacity="0.12" stroke-width="1.4"/>
<circle cx="606.8" cy="1696.8" r="3.3" fill="#8ACF6E"/>
<line x1="606.8" y1="1696.8" x2="606.8" y2="1699.5" stroke="#000" stroke-opacity="0.12" stroke-width="1.4"/>
<circle cx="631.5" cy="1696.8" r="3.3" fill="#2B2B33"/>
<line x1="631.5" y1="1696.8" x2="631.5" y2="1699.5" stroke="#000" stroke-opacity="0.12" stroke-width="1.4"/>
<text x="0" y="0" font-size="9.4" font-weight="bold" fill="#111" stroke="#111" stroke-width="0.3" textLength="27.41" lengthAdjust="spacingAndGlyphs" transform="translate(165.8,1682.7) rotate(-31)">P695fs</text>
<text x="0" y="0" font-size="9.4" font-weight="bold" fill="#111" stroke="#111" stroke-width="0.3" textLength="26.46" lengthAdjust="spacingAndGlyphs" transform="translate(180.0,1589.0) rotate(-31)">N729D</text>
<text x="0" y="0" font-size="9.4" font-weight="bold" fill="#111" stroke="#111" stroke-width="0.3" textLength="24.1" lengthAdjust="spacingAndGlyphs" transform="translate(182.6,1684.9) rotate(-31)">Q755*</text>
<text x="0" y="0" font-size="9.4" font-weight="bold" fill="#111" stroke="#111" stroke-width="0.3" textLength="25.04" lengthAdjust="spacingAndGlyphs" transform="translate(196.6,1689.2) rotate(-31)">S772L</text>
<text x="0" y="0" font-size="9.4" font-weight="bold" fill="#111" stroke="#111" stroke-width="0.3" textLength="29.77" lengthAdjust="spacingAndGlyphs" transform="translate(299.1,1679.5) rotate(-31)">T1801S</text>
<text x="0" y="0" font-size="9.4" font-weight="bold" fill="#111" stroke="#111" stroke-width="0.3" textLength="28.35" lengthAdjust="spacingAndGlyphs" transform="translate(326.7,1678.9) rotate(-31)">R2028*</text>
<text x="0" y="0" font-size="9.4" font-weight="bold" fill="#111" stroke="#111" stroke-width="0.3" textLength="29.77" lengthAdjust="spacingAndGlyphs" transform="translate(351.7,1679.2) rotate(-31)">F2250S</text>
<text x="0" y="0" font-size="9.4" font-weight="bold" fill="#111" stroke="#111" stroke-width="0.3" textLength="31.66" lengthAdjust="spacingAndGlyphs" transform="translate(368.8,1682.2) rotate(-31)">L2387fs</text>
<text x="0" y="0" font-size="9.4" font-weight="bold" fill="#111" stroke="#111" stroke-width="0.3" textLength="32.6" lengthAdjust="spacingAndGlyphs" transform="translate(413.6,1679.8) rotate(-31)">K2797fs</text>
<text x="0" y="0" font-size="9.4" font-weight="bold" fill="#111" stroke="#111" stroke-width="0.3" textLength="27.89" lengthAdjust="spacingAndGlyphs" transform="translate(483.7,1679.1) rotate(-31)">E3399*</text>
<text x="0" y="0" font-size="9.4" font-weight="bold" fill="#111" stroke="#111" stroke-width="0.3" textLength="34.96" lengthAdjust="spacingAndGlyphs" transform="translate(568.1,1680.7) rotate(-31)">NI4283fs</text>
<text x="0" y="0" font-size="9.4" font-weight="bold" fill="#111" stroke="#111" stroke-width="0.3" textLength="28.35" lengthAdjust="spacingAndGlyphs" transform="translate(609.1,1680.1) rotate(-31)">R4478*</text>
<text x="0" y="0" font-size="9.4" font-weight="bold" fill="#111" stroke="#111" stroke-width="0.3" textLength="27.89" lengthAdjust="spacingAndGlyphs" transform="translate(634.8,1680.1) rotate(-31)">Y4691*</text>
<rect x="91.9" y="1755.0" width="564.9" height="29.299999999999955" fill="#B3B3B3"/>
<rect x="121.0" y="1750.2" width="9.099999999999994" height="38.59999999999991" fill="#FDC086"/>
<rect x="131.4" y="1750.2" width="5.699999999999989" height="38.59999999999991" fill="#F9F09D"/>
<rect x="137.1" y="1750.2" width="5.700000000000017" height="38.59999999999991" fill="#FDC086"/>
<rect x="145.8" y="1750.2" width="6.199999999999989" height="38.59999999999991" fill="#E6198A"/>
<rect x="202.6" y="1750.2" width="5.5" height="38.59999999999991" fill="#93DE87"/>
<rect x="208.1" y="1750.2" width="5.5" height="38.59999999999991" fill="#4373B5"/>
<rect x="217.2" y="1750.2" width="5.900000000000006" height="38.59999999999991" fill="#C0561A"/>
<rect x="282.4" y="1750.2" width="5.800000000000011" height="38.59999999999991" fill="#C9B3E6"/>
<rect x="601.4" y="1750.2" width="3.6000000000000227" height="38.59999999999991" fill="#F9F09D"/>
<rect x="605.0" y="1750.2" width="5.2999999999999545" height="38.59999999999991" fill="#E6198A"/>
<rect x="615.1" y="1750.2" width="6.399999999999977" height="38.59999999999991" fill="#4373B5"/>
<rect x="621.9" y="1750.2" width="9.800000000000068" height="38.59999999999991" fill="#C9B3E6"/>
<rect x="641.0" y="1750.2" width="14.0" height="38.59999999999991" fill="#93DE87"/>
<rect x="655.0" y="1750.2" width="1.7999999999999545" height="38.59999999999991" fill="#C0561A"/>
<line x1="91.9" y1="1802.6" x2="656.4" y2="1802.6" stroke="#151515" stroke-width="1.3"/>
<line x1="91.9" y1="1802.6" x2="91.9" y2="1808.0" stroke="#151515" stroke-width="1.3"/>
<text x="0" y="0" font-size="11.2" font-weight="bold" text-anchor="middle" fill="#111" stroke="#111" stroke-width="0.2" transform="translate(93.4,1820.0) scale(0.82,1)">0</text>
<line x1="207.1" y1="1802.6" x2="207.1" y2="1808.0" stroke="#151515" stroke-width="1.3"/>
<text x="0" y="0" font-size="11.2" font-weight="bold" text-anchor="middle" fill="#111" stroke="#111" stroke-width="0.2" transform="translate(208.6,1820.0) scale(0.82,1)">1000</text>
<line x1="322.2" y1="1802.6" x2="322.2" y2="1808.0" stroke="#151515" stroke-width="1.3"/>
<text x="0" y="0" font-size="11.2" font-weight="bold" text-anchor="middle" fill="#111" stroke="#111" stroke-width="0.2" transform="translate(323.7,1820.0) scale(0.82,1)">2000</text>
<line x1="436.9" y1="1802.6" x2="436.9" y2="1808.0" stroke="#151515" stroke-width="1.3"/>
<text x="0" y="0" font-size="11.2" font-weight="bold" text-anchor="middle" fill="#111" stroke="#111" stroke-width="0.2" transform="translate(438.4,1820.0) scale(0.82,1)">3000</text>
<line x1="552.1" y1="1802.6" x2="552.1" y2="1808.0" stroke="#151515" stroke-width="1.3"/>
<text x="0" y="0" font-size="11.2" font-weight="bold" text-anchor="middle" fill="#111" stroke="#111" stroke-width="0.2" transform="translate(553.6,1820.0) scale(0.82,1)">4000</text>
<line x1="656.4" y1="1802.6" x2="656.4" y2="1808.0" stroke="#151515" stroke-width="1.3"/>
<text x="0" y="0" font-size="11.2" font-weight="bold" text-anchor="middle" fill="#111" stroke="#111" stroke-width="0.2" transform="translate(657.9,1820.0) scale(0.82,1)">4914</text>
<text x="92.9" y="1845.8" font-size="14.5" text-anchor="start" fill="#111" textLength="52.8" lengthAdjust="spacingAndGlyphs">Domains</text>
<rect x="245.9" y="1849.8000000000002" width="8.2" height="8.2" fill="#93DE87"/>
<text x="269.0" y="1859.59" font-size="15.41" text-anchor="start" fill="#1a1a1a" textLength="26.45" lengthAdjust="spacingAndGlyphs">SET</text>
<rect x="245.9" y="1867.7" width="8.2" height="8.2" fill="#C9B3E6"/>
<text x="269.0" y="1877.49" font-size="15.41" text-anchor="start" fill="#1a1a1a" textLength="37.02" lengthAdjust="spacingAndGlyphs">FYRC</text>
<rect x="245.9" y="1885.7" width="8.2" height="8.2" fill="#FDC086"/>
<text x="269.0" y="1895.49" font-size="15.41" text-anchor="start" fill="#1a1a1a" textLength="82.76" lengthAdjust="spacingAndGlyphs">zf−HC5HC2H</text>
<rect x="245.9" y="1903.4" width="8.2" height="8.2" fill="#F9F09D"/>
<text x="269.0" y="1913.19" font-size="15.41" text-anchor="start" fill="#1a1a1a" textLength="37.02" lengthAdjust="spacingAndGlyphs">FYRN</text>
<rect x="407.09999999999997" y="1849.8000000000002" width="8.2" height="8.2" fill="#4373B5"/>
<text x="430.1" y="1859.59" font-size="15.41" text-anchor="start" fill="#1a1a1a" textLength="28.72" lengthAdjust="spacingAndGlyphs">PHD</text>
<rect x="407.09999999999997" y="1867.7" width="8.2" height="8.2" fill="#E6198A"/>
<text x="430.1" y="1877.49" font-size="15.41" text-anchor="start" fill="#1a1a1a" textLength="61.6" lengthAdjust="spacingAndGlyphs">HMG−box</text>
<rect x="407.09999999999997" y="1885.7" width="8.2" height="8.2" fill="#C0561A"/>
<text x="430.1" y="1895.49" font-size="15.41" text-anchor="start" fill="#1a1a1a" textLength="53.67" lengthAdjust="spacingAndGlyphs">PostSET</text>
</svg>
</body></html>
